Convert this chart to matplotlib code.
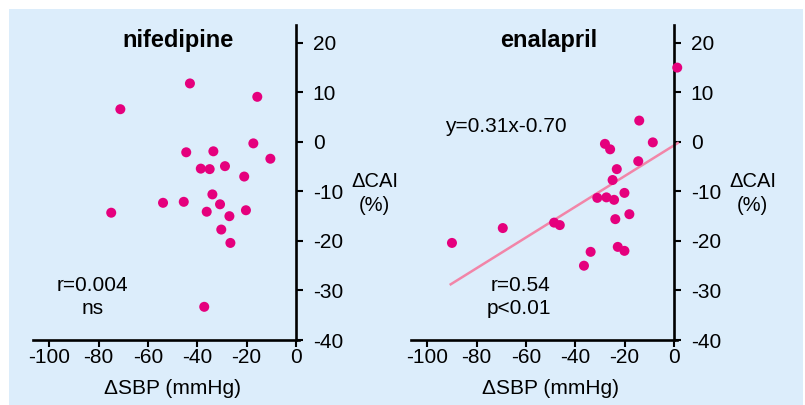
import matplotlib
matplotlib.use("Agg")
import matplotlib.pyplot as plt
from matplotlib.patches import Rectangle
import numpy as np

plt.rcParams['font.family'] = ['Liberation Sans', 'DejaVu Sans']

# nifedipine data
nif_x = [-43.0, -15.7, -71.2, -17.3, -44.5, -33.5, -10.4, -38.6, -35.0, -28.8, -21.0,
         -33.9, -53.9, -45.5, -74.9, -30.8, -36.2, -27.0, -20.3, -30.3, -26.6, -37.2]
nif_y = [11.8, 9.1, 6.6, -0.3, -2.1, -1.9, -3.4, -5.4, -5.5, -4.9, -7.0,
         -10.6, -12.3, -12.1, -14.3, -12.6, -14.1, -15.0, -13.8, -17.7, -20.4, -33.3]

# enalapril data
ena_x = [1.3, -14.1, -8.6, -28.0, -25.9, -14.5, -23.2, -24.9, -20.1, -31.1, -27.4,
         -24.3, -18.1, -23.8, -48.6, -46.3, -69.4, -90.0, -22.8, -20.1, -33.8, -36.5]
ena_y = [15.0, 4.3, -0.1, -0.4, -1.5, -3.9, -5.5, -7.7, -10.3, -11.3, -11.2,
         -11.7, -14.6, -15.6, -16.3, -16.8, -17.4, -20.4, -21.2, -22.0, -22.2, -25.0]

slope, intercept = 0.31, -0.70
fit_x = [-90.5, 1.5]

titles = ['nifedipine', 'enalapril']
x_ticks = [-100, -80, -60, -40, -20, 0]
y_ticks = [20, 10, 0, -10, -20, -30, -40]

W, H = 805, 405
fig = plt.figure(figsize=(W / 100, H / 100), dpi=100, facecolor='white')
bg = '#dcedfb'
rect = Rectangle((9 / W, 0), (803 - 9) / W, (H - 9) / H,
                 transform=fig.transFigure, facecolor=bg,
                 edgecolor='none', zorder=-10)
fig.add_artist(rect)

pt_color = '#e5007d'
line_color = '#f285a8'
FS = 15

lefts = [33, 411]
ax_w = 298.5 - 33
bottom_px, top_px = 340, 25
title_x = [-47.8, -50.7]

axes = []
for i, left in enumerate(lefts):
    ax = fig.add_axes([left / W, (H - bottom_px) / H, ax_w / W, (bottom_px - top_px) / H])
    ax.set_facecolor('none')
    ax.set_zorder(1)
    ax.set_xlim(-106.6, 1.0)
    ax.set_ylim(-40, 23.6)
    for s in ['left', 'top']:
        ax.spines[s].set_visible(False)
    ax.spines['right'].set_position(('data', 0))
    ax.spines['right'].set_linewidth(1.9)
    ax.spines['bottom'].set_linewidth(1.9)
    ax.yaxis.tick_right()
    ax.set_xticks(x_ticks)
    ax.set_xticklabels([str(v) for v in x_ticks])
    ax.set_yticks(y_ticks)
    ax.set_yticklabels([str(v) for v in y_ticks])
    ax.tick_params(axis='x', direction='out', length=5, width=1.5, labelsize=FS, pad=1)
    ax.tick_params(axis='y', direction='out', length=5, width=1.5, labelsize=FS, pad=7)
    ax.text(title_x[i], 20.4, titles[i], ha='center', va='center',
            fontsize=17, fontweight='bold')
    ax.text(-50, -49.7, '\u0394SBP (mmHg)', ha='center', va='center', fontsize=FS,
            clip_on=False)
    ax.text(31.8, -8.05, '\u0394CAI', ha='center', va='center', fontsize=14.5, clip_on=False)
    ax.text(31.8, -12.75, '(%)', ha='center', va='center', fontsize=14.5, clip_on=False)
    axes.append(ax)

ax1, ax2 = axes
ax1.scatter(nif_x, nif_y, s=52, color=pt_color, edgecolors='none', zorder=3, clip_on=False)
ax1.text(-82.5, -29.0, 'r=0.004', ha='center', va='center', fontsize=FS)
ax1.text(-82.5, -33.6, 'ns', ha='center', va='center', fontsize=FS)

fit_y = [slope * v + intercept for v in fit_x]
ax2.plot(fit_x, fit_y, color=line_color, lw=1.8, zorder=2, clip_on=False)
ax2.scatter(ena_x, ena_y, s=52, color=pt_color, edgecolors='none', zorder=3, clip_on=False)
ax2.text(-62.4, -29.0, 'r=0.54', ha='center', va='center', fontsize=FS)
ax2.text(-62.8, -33.6, 'p<0.01', ha='center', va='center', fontsize=FS)
ax2.text(-92.8, 3.2, 'y=0.31x-0.70', ha='left', va='center', fontsize=FS)

fig.savefig('out.png', dpi=100, facecolor='white')
